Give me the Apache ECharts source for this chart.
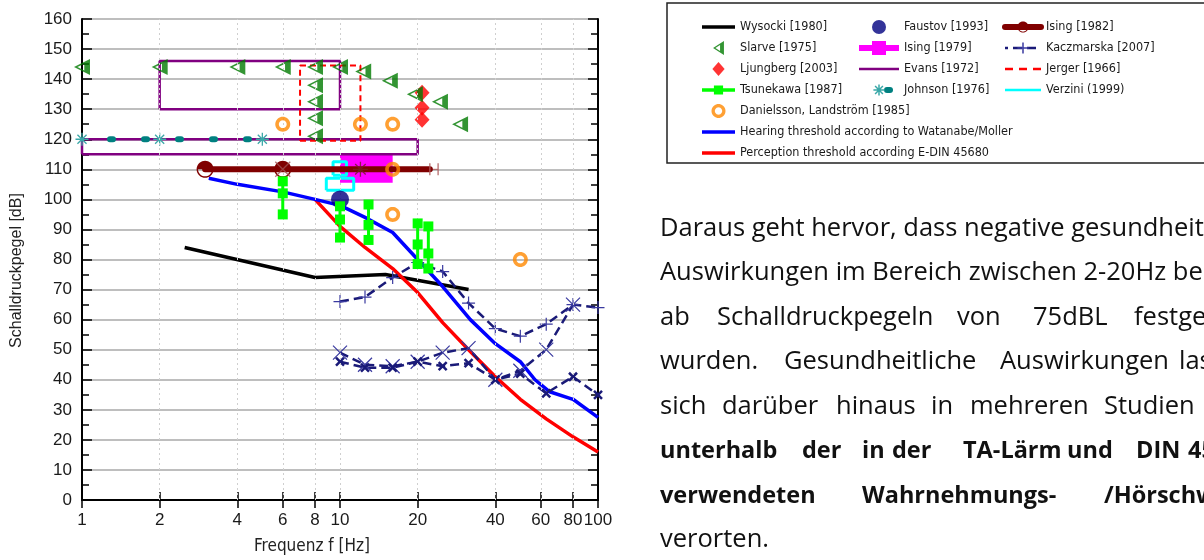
<!DOCTYPE html>
<html>
<head>
<meta charset="utf-8">
<script src="https://cdn.jsdelivr.net/npm/echarts@6/dist/echarts.min.js"></script>
<style>
  html, body { margin: 0; padding: 0; background: #fff; }
  #chart { width: 1204px; height: 560px; }
</style>
</head>
<body>
<div id="chart"></div>
<script>
// values: x = frequency [Hz], y = sound pressure level [dB]
const xTicks = [1, 2, 4, 6, 8, 10, 20, 40, 60, 80, 100];
const xDottedGrid = [2, 4, 6, 8, 10, 20, 40, 60, 80];

const wysocki = [[2.5, 84], [8, 74], [15, 75], [31.5, 70]];
const slarve = [[1, 144], [2, 144], [4, 144], [6, 144], [8, 144], [8, 138], [8, 132.5], [8, 127], [8, 121],
  [10, 144], [12.3, 142.5], [15.6, 139.5], [19.5, 135], [24.4, 132.5], [29.2, 125]];
const ljungberg = [[20.8, 135.5], [20.8, 130.5], [20.8, 126.5]];
const tsunekawaX = [6, 10, 12.9, 20, 22];
const tsunekawaY = [[106, 102, 95], [97.7, 93.3, 87.3], [98.3, 91.5, 86.5], [92, 85, 78.5], [91, 82, 77]];
const danielsson = [[6, 125], [12, 125], [16, 125], [16, 110], [16, 95], [50, 80]];
const hearing = [[3.1, 107], [4, 105], [6, 102.5], [8, 100], [10, 98], [12.5, 94], [16, 89], [20, 80],
  [25, 71], [32, 60], [40, 52], [50, 46], [57, 40], [65, 36], [80, 33.5], [100, 27.5]];
const perception = [[8, 100], [10, 91], [12.5, 84], [16, 77], [20, 69], [25, 59], [31.5, 50], [40, 41],
  [50, 33.5], [63, 27], [80, 21], [100, 16]];
const faustov = [[10, 100]];
// boxes: [xFrom, xTo, yFrom, yTo]
const ising1979 = [[10, 16, 105.5, 115]];
const evans = [[2, 10, 130, 146], [1, 20, 115, 120]];
const jerger = [[7, 12, 119.5, 144.5]];
const verzini = [[9.4, 10.6, 108, 112.5], [8.85, 11.3, 103, 107]];
const ising1982 = [[3, 110], [6, 110], [12, 110], [16, 110], [22.3, 110]];
const ising1982Circles = [3, 6];
const ising1982Cross = [[6, 110]];
const ising1982Star = [[12, 110]];
const ising1982Tail = [[22.3, 110], [24, 110]];
const johnson = [[1, 120], [2, 120], [5, 120]];
const kaczPlus = [[10, 66], [12.5, 67.5], [16, 74], [20, 79], [25, 76], [31.5, 65.5], [40, 57], [50, 54.5],
  [63, 58.5], [80, 65], [100, 64]];
const kaczCross = [[10, 49], [12.5, 45], [16, 44.5], [20, 46], [25, 49], [31.5, 50.5], [40, 40], [50, 43],
  [63, 50], [80, 65]];
const kaczCrossBold = [[10, 46], [12.5, 44], [16, 44], [20, 46], [25, 44.5], [31.5, 45.5], [40, 40], [50, 42],
  [63, 35.5], [80, 41], [100, 35]];

const NARROW = '"Liberation Sans Narrow", "DejaVu Sans Condensed", sans-serif';
const ARIAL = '"Liberation Sans", Arial, sans-serif';
const PARA = '"Open Sans", "Noto Sans", sans-serif';

// symbol paths
function ringsToPath(rings) {
  return 'path://' + rings.map(r => 'M' + r.map(p => p[0].toFixed(2) + ',' + p[1].toFixed(2)).join('L') + 'Z').join(' ');
}
function arc(cx, cy, r, a0, a1, n) {
  const pts = [];
  for (let i = 0; i <= n; i++) {
    const t = a0 + (a1 - a0) * i / n;
    pts.push([cx + r * Math.cos(t), cy + r * Math.sin(t)]);
  }
  return pts;
}
const TRI = ringsToPath([[[0, 9], [14, 0], [14, 18]], [[3, 9], [9, 12.9], [9, 5.1]]]);
const HALF = ringsToPath([arc(10, 10, 10, 0, Math.PI * 2, 36).slice(0, -1), arc(10, 10, 8.3, Math.PI, 0, 18)]);
const RING = ringsToPath([arc(10, 10, 10, 0, Math.PI * 2, 36).slice(0, -1), arc(10, 10, 5.2, Math.PI * 2, 0, 36).slice(0, -1)]);
const DIAMOND = 'path://M7,0L14,8L7,16L0,8Z';
const PLUS = 'path://M5,0L5,10M0,5L10,5';
const CROSS = 'path://M0,0L10,10M10,0L0,10';
const STAR = 'path://M0,5L10,5M5,0L5,10M1.5,1.5L8.5,8.5M8.5,1.5L1.5,8.5';
const VBAR = 'path://M0,0L1,0L1,10L0,10Z';
const bar = h => 'path://M0,0L36,0L36,' + h + 'L0,' + h + 'Z';
const CLEAR = 'rgba(0,0,0,0)';

const boxPath = b => [[b[0], b[2]], [b[1], b[2]], [b[1], b[3]], [b[0], b[3]], [b[0], b[2]]];
const boxSeries = (name, boxes, lineStyle) => boxes.map(b => ({
  name, type: 'line', data: boxPath(b), symbol: 'none', lineStyle, z: 3
}));

const series = [
  {
    name: 'grid', type: 'line', data: [], silent: true, z: 1,
    markLine: {
      silent: true, symbol: ['none', 'none'], label: { show: false },
      lineStyle: { color: '#cfcfcf', width: 1, type: [2, 3] },
      data: xDottedGrid.map(v => ({ xAxis: v }))
    }
  },
  {
    name: 'Ising [1979]', type: 'custom', data: ising1979, encode: { x: [0, 1], y: [2, 3] }, z: 2,
    renderItem: (params, api) => {
      const a = api.coord([api.value(0), api.value(3)]);
      const b = api.coord([api.value(1), api.value(2)]);
      return { type: 'rect', shape: { x: a[0], y: a[1], width: b[0] - a[0], height: b[1] - a[1] }, style: { fill: '#ff00ff' } };
    }
  },
  ...boxSeries('Evans [1972]', evans, { color: '#800080', width: 2.5 }),
  ...boxSeries('Jerger [1966]', jerger, { color: '#ff0000', width: 2, type: [6, 4] }),
  {
    name: 'Johnson [1976]', type: 'line', data: johnson, z: 3,
    lineStyle: { color: '#008080', width: 6, type: [3, 31], cap: 'round', dashOffset: 6 },
    symbol: STAR, symbolSize: 13, itemStyle: { color: CLEAR, borderColor: '#3aa8a8', borderWidth: 1.3 }
  },
  {
    name: 'Ljungberg [2003]', type: 'scatter', data: ljungberg, symbol: DIAMOND, symbolSize: [15, 16],
    itemStyle: { color: '#ff0000' }, z: 3
  },
  {
    name: 'Slarve [1975]', type: 'scatter', data: slarve, symbol: TRI, symbolSize: [16, 16],
    itemStyle: { color: '#007a00' }, z: 3
  },
  {
    name: 'Wysocki [1980]', type: 'line', data: wysocki, symbol: 'none',
    lineStyle: { color: '#000', width: 3.5 }, z: 4
  },
  {
    name: 'Perception threshold according E-DIN 45680', type: 'line', data: perception, symbol: 'none',
    lineStyle: { color: '#ff0000', width: 3.5 }, z: 4
  },
  {
    name: 'Hearing threshold according to Watanabe/Moller', type: 'line', data: hearing, symbol: 'none',
    lineStyle: { color: '#0000ff', width: 3.5 }, z: 4
  },
  {
    name: 'Kaczmarska [2007]', type: 'line', data: kaczPlus, symbol: PLUS, symbolSize: 13, z: 4,
    lineStyle: { color: '#1a1a78', width: 2.5, type: [9, 5] },
    itemStyle: { color: CLEAR, borderColor: '#3a3aa0', borderWidth: 1.2 }
  },
  {
    name: 'Kaczmarska [2007]', type: 'line', data: kaczCross, symbol: CROSS, symbolSize: 14, z: 4,
    lineStyle: { color: '#1a1a78', width: 2.5, type: [9, 5] },
    itemStyle: { color: CLEAR, borderColor: '#3a3aa0', borderWidth: 1.2 }
  },
  {
    name: 'Kaczmarska [2007]', type: 'line', data: kaczCrossBold, symbol: CROSS, symbolSize: 8, z: 4,
    lineStyle: { color: '#1a1a78', width: 2.5, type: [9, 5] },
    itemStyle: { color: CLEAR, borderColor: '#1a1a78', borderWidth: 2.5 }
  },
  {
    name: 'Ising tail', type: 'line', data: ising1982Tail, z: 5,
    symbol: ['none', VBAR], symbolSize: [1.2, 12], showSymbol: true,
    itemStyle: { color: '#b06060' }, lineStyle: { color: '#b06060', width: 1 }
  },
  {
    name: 'Ising [1982]', type: 'line', z: 5,
    data: ising1982.map(p => ising1982Circles.includes(p[0]) ? p : { value: p, symbol: 'none' }),
    symbol: HALF, symbolSize: 17, itemStyle: { color: '#800000' },
    lineStyle: { color: '#800000', width: 6, cap: 'round' }
  },
  {
    name: 'Ising marks', type: 'scatter', data: ising1982Cross, symbol: CROSS, symbolSize: 15, z: 5,
    itemStyle: { color: CLEAR, borderColor: '#a05050', borderWidth: 1.3 }
  },
  {
    name: 'Ising marks', type: 'scatter', data: ising1982Star, symbol: STAR, symbolSize: 15, z: 5,
    itemStyle: { color: CLEAR, borderColor: '#702020', borderWidth: 1.3 }
  },
  ...boxSeries('Verzini (1999)', verzini, { color: '#00ffff', width: 3 }),
  {
    name: 'Faustov [1993]', type: 'scatter', data: faustov, symbol: 'circle', symbolSize: 18,
    itemStyle: { color: '#000080' }, z: 5
  },
  ...tsunekawaX.map((x, i) => ({
    name: 'Tsunekawa [1987]', type: 'line', data: tsunekawaY[i].map(y => [x, y]), z: 6,
    symbol: 'rect', symbolSize: 10, itemStyle: { color: '#00ff00' },
    lineStyle: { color: '#00ff00', width: 3 }
  })),
  {
    name: 'Danielsson, Landström [1985]', type: 'scatter', data: danielsson, symbol: RING, symbolSize: 15,
    itemStyle: { color: '#ff8800' }, z: 6
  }
];

const icon = (name, path, color) => ({ name, icon: path, itemStyle: { color, borderWidth: 0 } });
const legendBase = {
  orient: 'vertical', top: 20, itemHeight: 14, itemGap: 7, selectedMode: false, padding: 0,
  textStyle: { fontFamily: NARROW, fontSize: 12.5, color: '#1a1a1a', lineHeight: 14 }
};

// text block next to the chart
const paraLines = [
  { y: 229, bold: false, words: [[660, 'Daraus geht hervor, dass negative gesundheitliche']] },
  { y: 273, bold: false, words: [[660, 'Auswirkungen im Bereich zwischen 2-20Hz bereits']] },
  { y: 318, bold: false, words: [[660, 'ab'], [717, 'Schalldruckpegeln'], [957, 'von'], [1033, '75dBL'], [1134, 'festgestellt']] },
  { y: 362, bold: false, words: [[660, 'wurden.'], [784, 'Gesundheitliche'], [1000, 'Auswirkungen'], [1179, 'lassen']] },
  { y: 407, bold: false, words: [[660, 'sich'], [722, 'darüber'], [836, 'hinaus'], [931, 'in'], [970, 'mehreren'], [1104, 'Studien']] },
  { y: 451, bold: true, words: [[660, 'unterhalb'], [802, 'der'], [862, 'in'], [892, 'der'], [963, 'TA-Lärm'], [1067, 'und'], [1136, 'DIN'], [1188, '45680']] },
  { y: 496, bold: true, words: [[660, 'verwendeten'], [862, 'Wahrnehmungs-'], [1104, '/Hörschwelle']] },
  { y: 540, bold: false, words: [[660, 'verorten.']] }
];

const graphic = [
  { type: 'rect', shape: { x: 667, y: 3, width: 600, height: 160 }, style: { fill: 'none', stroke: '#222', lineWidth: 1.5 }, silent: true }
];
paraLines.forEach(line => {
  line.words.forEach(([x, w]) => {
    graphic.push({
      type: 'text', x, y: line.y, silent: true,
      style: { text: w, font: line.bold ? 'bold 23.5px ' + PARA : '25.5px ' + PARA, fill: '#111', verticalAlign: 'middle' }
    });
  });
});

const tickStyle = { color: '#000', width: 1.5 };
const chart = echarts.init(document.getElementById('chart'), null, { renderer: 'canvas' });
chart.setOption({
  animation: false,
  backgroundColor: '#fff',
  grid: { left: 82, right: 606, top: 19, bottom: 60, containLabel: false, outerBoundsMode: 'none' },
  xAxis: [
    {
      type: 'log', logBase: 10, min: 1, max: 100, position: 'bottom',
      name: 'Frequenz f [Hz]', nameLocation: 'middle', nameGap: 38, nameMoveOverlap: false,
      nameTextStyle: { fontFamily: NARROW, fontSize: 17, color: '#222', padding: [0, 56, 0, 0] },
      axisLine: { lineStyle: { color: '#000', width: 2 } },
      axisTick: { inside: true, length: 8, lineStyle: tickStyle, customValues: xTicks },
      axisLabel: { customValues: xTicks, margin: 12, fontFamily: ARIAL, fontSize: 17, color: '#1a1a1a' },
      splitLine: { show: false }, minorTick: { show: false }
    },
    {
      type: 'log', logBase: 10, min: 1, max: 100, position: 'top',
      axisLine: { lineStyle: { color: '#000', width: 2 } },
      axisTick: { inside: true, length: 8, lineStyle: tickStyle, customValues: xTicks },
      axisLabel: { show: false }, splitLine: { show: false }, minorTick: { show: false }
    }
  ],
  yAxis: [
    {
      type: 'value', min: 0, max: 160, interval: 10, position: 'left',
      name: 'Schalldruckpegel [dB]', nameLocation: 'middle', nameGap: 57, nameMoveOverlap: false,
      nameTextStyle: { fontFamily: ARIAL, fontSize: 16, color: '#222', padding: [0, 22, 0, 0] },
      axisLine: { lineStyle: { color: '#000', width: 2 } },
      axisTick: { inside: true, length: 10, lineStyle: tickStyle },
      minorTick: { show: true, splitNumber: 2, length: 7, lineStyle: tickStyle },
      axisLabel: { margin: 10, fontFamily: ARIAL, fontSize: 17, color: '#1a1a1a' },
      splitLine: { show: true, lineStyle: { color: '#a8a8a8', width: 1.5 } }
    },
    {
      type: 'value', min: 0, max: 160, interval: 10, position: 'right',
      axisLine: { lineStyle: { color: '#000', width: 2 } },
      axisTick: { inside: true, length: 10, lineStyle: tickStyle },
      minorTick: { show: true, splitNumber: 2, length: 7, lineStyle: tickStyle },
      axisLabel: { show: false }, splitLine: { show: false }
    }
  ],
  legend: [
    {
      ...legendBase, left: 702, itemWidth: 33,
      data: [
        icon('Wysocki [1980]', bar(4), '#000'),
        icon('Slarve [1975]', TRI, '#007a00'),
        icon('Ljungberg [2003]', DIAMOND, '#ff0000'),
        icon('Tsunekawa [1987]', 'path://M0,5L36,5L36,9L0,9Z M13,2L23,2L23,12L13,12Z', '#00ff00'),
        icon('Danielsson, Landström [1985]', RING, '#ff8800'),
        icon('Hearing threshold according to Watanabe/Moller', bar(4), '#0000ff'),
        icon('Perception threshold according E-DIN 45680', bar(4), '#ff0000')
      ]
    },
    {
      ...legendBase, left: 856, itemWidth: 40,
      data: [
        icon('Faustov [1993]', 'circle', '#000080'),
        icon('Ising [1979]', 'path://M0,4L40,4L40,10L0,10Z M13,0L27,0L27,14L13,14Z', '#ff00ff'),
        icon('Evans [1972]', 'path://M0,0L34,0L34,2L0,2Z', '#800080'),
        { name: 'Johnson [1976]', lineStyle: { width: 6 }, itemStyle: { borderWidth: 1.5 } }
      ]
    },
    {
      ...legendBase, left: 1002, itemWidth: 36,
      data: [
        { name: 'Ising [1982]', lineStyle: { width: 6 } },
        { name: 'Kaczmarska [2007]', lineStyle: { width: 2.5 }, itemStyle: { borderWidth: 1.5 } },
        icon('Jerger [1966]', 'path://M0,0L8,0L8,2.5L0,2.5Z M14,0L22,0L22,2.5L14,2.5Z M28,0L36,0L36,2.5L28,2.5Z', '#ff0000'),
        icon('Verzini (1999)', 'path://M0,0L36,0L36,2.5L0,2.5Z', '#00ffff')
      ]
    }
  ],
  graphic,
  series
});
</script>
</body>
</html>
